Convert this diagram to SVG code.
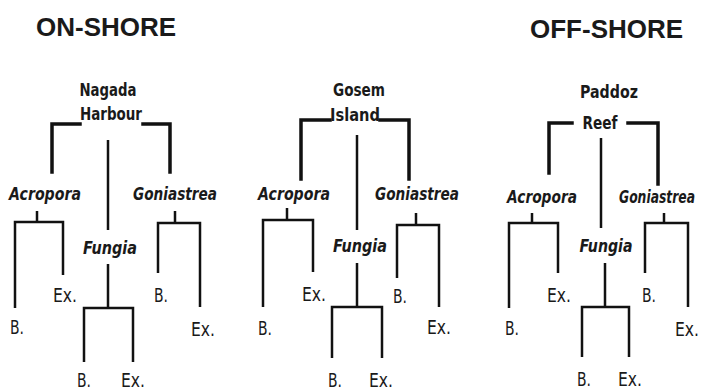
<svg xmlns="http://www.w3.org/2000/svg" width="703" height="392" viewBox="0 0 703 392">
<style>
text{font-family:"DejaVu Sans","Liberation Sans",sans-serif;fill:#1a1a1a;text-anchor:middle}
.title{font-family:"Liberation Sans",Arial,sans-serif;font-weight:bold;font-size:26px;text-anchor:start}
.site{font-size:18px;font-weight:bold}
.genus{font-size:18px;font-style:italic;font-weight:bold}
.leaf{font-size:19px}
.main{fill:none;stroke:#111;stroke-width:3.5;stroke-linecap:square}
.sub{fill:none;stroke:#111;stroke-width:2.5}
</style>
<rect width="703" height="392" fill="#fff"/>
<text class="title" x="36" y="36">ON-SHORE</text>
<text class="title" x="530" y="38">OFF-SHORE</text>

<g id="connectors">
  <!-- Panel 1 -->
  <path class="main" d="M80,124 H52 V172 M143,124 H170 V172"/>
  <path class="sub" d="M108,140 V230"/>
  <path class="sub" d="M37,211 V222 M15,308 V222 H63 V275"/>
  <path class="sub" d="M108,264 V308 M84,362 V308 H133 V362"/>
  <path class="sub" d="M175,211 V223 M158,273 V223 H200 V307"/>
  <!-- Panel 2 -->
  <path class="main" d="M330,120 H301 V179 M380,120 H409 V179"/>
  <path class="sub" d="M357,135 V230"/>
  <path class="sub" d="M287,208 V220 M263,307 V220 H313 V272"/>
  <path class="sub" d="M357,263 V307 M332,358 V307 H382 V358"/>
  <path class="sub" d="M416,213 V225 M397,278 V225 H439 V307"/>
  <!-- Panel 3 -->
  <path class="main" d="M572,123 H549 V173 M628,123 H658 V184"/>
  <path class="sub" d="M601,138 V228"/>
  <path class="sub" d="M532,213 V223 M509,308 V223 H558 V273"/>
  <path class="sub" d="M605,263 V307 M582,357 V307 H629 V357"/>
  <path class="sub" d="M664,213 V223 M645,273 V223 H688 V307"/>
</g>

<g id="site-1"><text class="site" x="108" y="96" textLength="57" lengthAdjust="spacingAndGlyphs">Nagada</text><text class="site" x="111" y="120" textLength="62" lengthAdjust="spacingAndGlyphs">Harbour</text></g>
<g id="acropora-1"><text class="genus" x="45" y="200" textLength="72" lengthAdjust="spacingAndGlyphs">Acropora</text></g>
<g id="fungia-1"><text class="genus" x="110" y="254" textLength="54" lengthAdjust="spacingAndGlyphs">Fungia</text></g>
<g id="goniastrea-1"><text class="genus" x="175" y="200" textLength="84" lengthAdjust="spacingAndGlyphs">Goniastrea</text></g>
<g id="leaves-1">
  <text class="leaf" x="17" y="334" textLength="14" lengthAdjust="spacingAndGlyphs">B.</text>
  <text class="leaf" x="65" y="302" textLength="24" lengthAdjust="spacingAndGlyphs">Ex.</text>
  <text class="leaf" x="84" y="387" textLength="14" lengthAdjust="spacingAndGlyphs">B.</text>
  <text class="leaf" x="133" y="387" textLength="24" lengthAdjust="spacingAndGlyphs">Ex.</text>
  <text class="leaf" x="161" y="302" textLength="14" lengthAdjust="spacingAndGlyphs">B.</text>
  <text class="leaf" x="203" y="336" textLength="24" lengthAdjust="spacingAndGlyphs">Ex.</text>
</g>

<g id="site-2"><text class="site" x="359" y="96" textLength="52" lengthAdjust="spacingAndGlyphs">Gosem</text><text class="site" x="355" y="121" textLength="50" lengthAdjust="spacingAndGlyphs">Island</text></g>
<g id="acropora-2"><text class="genus" x="294" y="200" textLength="72" lengthAdjust="spacingAndGlyphs">Acropora</text></g>
<g id="fungia-2"><text class="genus" x="360" y="252" textLength="54" lengthAdjust="spacingAndGlyphs">Fungia</text></g>
<g id="goniastrea-2"><text class="genus" x="417" y="200" textLength="84" lengthAdjust="spacingAndGlyphs">Goniastrea</text></g>
<g id="leaves-2">
  <text class="leaf" x="265" y="335" textLength="14" lengthAdjust="spacingAndGlyphs">B.</text>
  <text class="leaf" x="314" y="301" textLength="24" lengthAdjust="spacingAndGlyphs">Ex.</text>
  <text class="leaf" x="335" y="387" textLength="14" lengthAdjust="spacingAndGlyphs">B.</text>
  <text class="leaf" x="381" y="387" textLength="24" lengthAdjust="spacingAndGlyphs">Ex.</text>
  <text class="leaf" x="400" y="303" textLength="14" lengthAdjust="spacingAndGlyphs">B.</text>
  <text class="leaf" x="439" y="334" textLength="24" lengthAdjust="spacingAndGlyphs">Ex.</text>
</g>

<g id="site-3"><text class="site" x="609" y="98" textLength="58" lengthAdjust="spacingAndGlyphs">Paddoz</text><text class="site" x="600" y="129" textLength="35" lengthAdjust="spacingAndGlyphs">Reef</text></g>
<g id="acropora-3"><text class="genus" x="542" y="203" textLength="70" lengthAdjust="spacingAndGlyphs">Acropora</text></g>
<g id="fungia-3"><text class="genus" x="606" y="252" textLength="53" lengthAdjust="spacingAndGlyphs">Fungia</text></g>
<g id="goniastrea-3"><text class="genus" x="657" y="203" textLength="76" lengthAdjust="spacingAndGlyphs">Goniastrea</text></g>
<g id="leaves-3">
  <text class="leaf" x="512" y="335" textLength="14" lengthAdjust="spacingAndGlyphs">B.</text>
  <text class="leaf" x="559" y="302" textLength="24" lengthAdjust="spacingAndGlyphs">Ex.</text>
  <text class="leaf" x="584" y="386" textLength="14" lengthAdjust="spacingAndGlyphs">B.</text>
  <text class="leaf" x="630" y="386" textLength="24" lengthAdjust="spacingAndGlyphs">Ex.</text>
  <text class="leaf" x="649" y="302" textLength="14" lengthAdjust="spacingAndGlyphs">B.</text>
  <text class="leaf" x="687" y="336" textLength="24" lengthAdjust="spacingAndGlyphs">Ex.</text>
</g>
</svg>
